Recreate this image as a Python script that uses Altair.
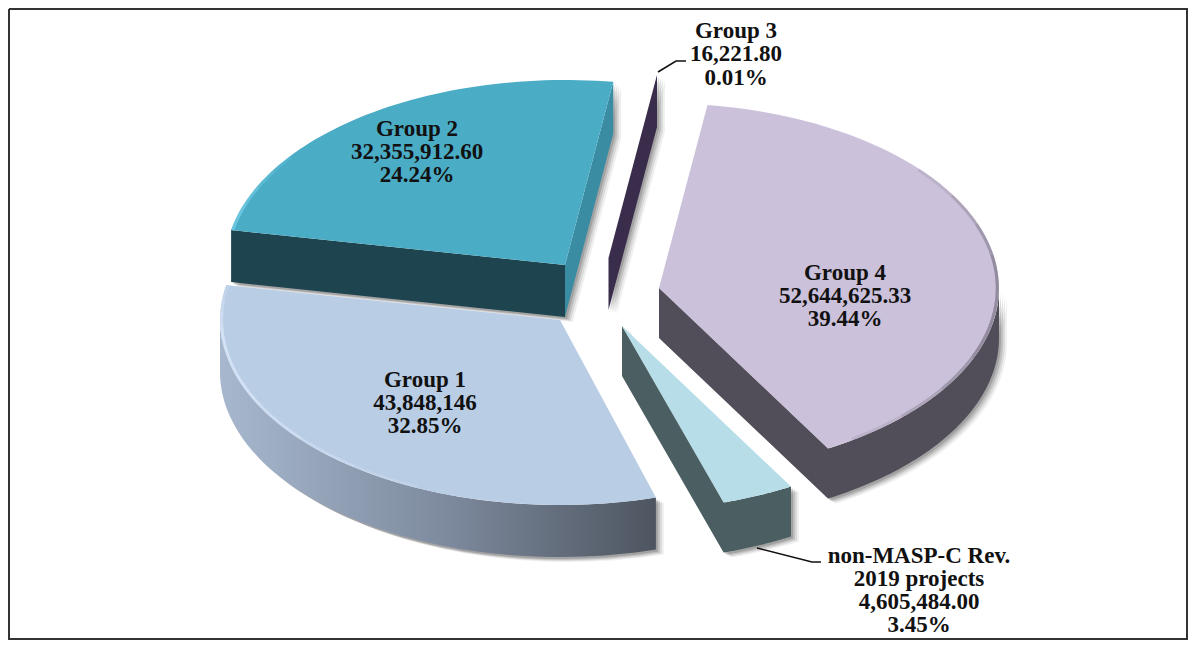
import math
import altair as alt

# ---- values ----
names = ["Group 1", "Group 2", "Group 3", "Group 4", "non-MASP-C Rev. 2019 projects"]
values = [43848146, 32355912.60, 16221.80, 52644625.33, 4605484.00]
value_labels = ["43,848,146", "32,355,912.60", "16,221.80", "52,644,625.33", "4,605,484.00"]
pct_labels = ["32.85%", "24.24%", "0.01%", "39.44%", "3.45%"]

# ---- layout ----
W, H = 1180, 632
RX, RY = 340, 185
START = 8.2            # degrees clockwise from the top where Group 4 starts
centers = {"Group 1": (560, 320), "Group 2": (565, 265), "Group 3": (608.5, 258),
           "Group 4": (659, 288), "non": (622, 326)}
depths = {"Group 1": 52, "Group 2": 52, "Group 3": 52, "Group 4": 50, "non": 50}

total = sum(values)
sweep = [v / total * 360 for v in values]
a4 = (START, START + sweep[3])
an = (a4[1], a4[1] + sweep[4])
a1 = (an[1] + 1, an[1] + sweep[0])
a2 = (a1[1], a1[1] + sweep[1])
a3 = (a2[1], a2[1] + sweep[2])


def page(x, y):
    return [x - 8, y - 8]


def rim(c, a, k=1.0):
    t = math.radians(a)
    return (c[0] + k * RX * math.sin(t), c[1] - k * RY * math.cos(t))


def arc(c, a, b, n=60, k=1.0):
    return [rim(c, a + (b - a) * i / n, k) for i in range(n + 1)]


def down(pts, d):
    return [(x, y + d) for x, y in pts]


def ring(pts):
    area = sum(pts[i][0] * pts[(i + 1) % len(pts)][1] - pts[(i + 1) % len(pts)][0] * pts[i][1]
               for i in range(len(pts)))
    p = list(pts) if area > 0 else list(pts)[::-1]
    r = [page(*q) for q in p]
    return r + [r[0]]


def poly(pts):
    return {"type": "Feature", "properties": {}, "geometry": {"type": "Polygon", "coordinates": [ring(pts)]}}


def multi(parts, dx=0, dy=0):
    return {"type": "Feature", "properties": {}, "geometry": {"type": "MultiPolygon", "coordinates": [
        [ring([(x + dx, y + dy) for x, y in p])] for p in parts]}}


def line(pts):
    return {"type": "Feature", "properties": {},
            "geometry": {"type": "LineString", "coordinates": [page(*q) for q in pts]}}


def band(top, d):
    return list(top) + down(top, d)[::-1]


PROJ = alt.Projection(type="identity", scale=1, translate=[0, 0])


def shape(feature, **mark):
    return alt.Chart(alt.InlineData(values=[feature])).mark_geoshape(**mark).project(**PROJ.to_dict())


def stroke_only(pts, **mark):
    return shape(line(pts), fill="white", fillOpacity=0, **mark)


def bevel(c, a, b, mid_span, color):
    """soft edge along a rim: several thin strokes whose lengths taper away"""
    out = []
    for i, op in enumerate([0.18, 0.18, 0.22, 0.25]):
        f = 1 - i * 0.22
        m = (a + b) / 2 if mid_span is None else mid_span
        out.append(stroke_only(arc(c, m - (m - a) * f, m + (b - m) * f, k=0.995),
                               stroke=color, strokeWidth=3, strokeOpacity=op))
    return out


# ---- parts ----
c1, c2, c3, c4, cn = (centers[k] for k in ["Group 1", "Group 2", "Group 3", "Group 4", "non"])
d1, d2, d3, d4, dn = (depths[k] for k in ["Group 1", "Group 2", "Group 3", "Group 4", "non"])

top1 = [c1] + arc(c1, *a1)
top2 = [c2] + arc(c2, *a2)
top4 = [c4] + arc(c4, *a4)
topn = [cn] + arc(cn, *an)

wall1 = band(arc(c1, a1[0], 270), d1)
wall2_front = band([c2, rim(c2, a2[0])], d2)
wall2_side = band([c2, rim(c2, a2[1])], d2)
wall3 = band([c3, rim(c3, a3[1])], d3)
wall4 = [band(arc(c4, 90, a4[1]), d4), band([c4, rim(c4, a4[1])], d4)]
walln = [band(arc(cn, *an), dn), band([cn, rim(cn, an[1])], dn)]

silhouettes = [[wall1], [wall2_front, wall2_side], [wall3], wall4, walln]

layers = []

# frame
fr = [(9, 9), (8 + W - 1, 9), (8 + W - 1, 8 + H - 1), (9, 8 + H - 1), (9, 9)]
layers.append(stroke_only(fr, stroke="#333333", strokeWidth=2))

# soft drop shadows
for parts in silhouettes:
    for dx, dy, op in [(8, 5, 0.06), (6, 4, 0.09), (4, 3, 0.12), (2, 2, 0.15)]:
        layers.append(shape(multi(parts, dx, dy), fill="#000000", fillOpacity=op, stroke=None))

# Group 1
layers.append(shape(poly(wall1), stroke=None, fill=alt.Gradient(
    gradient="linear", x1=0, x2=1, y1=0, y2=0,
    stops=[alt.GradientStop(offset=0, color="#A7B8CE"), alt.GradientStop(offset=0.5, color="#7F8CA0"),
           alt.GradientStop(offset=1, color="#4D5560")])))
layers.append(shape(poly(top1), fill="#B9CDE5", stroke=None))
layers += bevel(c1, 205, a1[1], 262, "#E2EEFF")

# Group 2
layers.append(shape(poly(wall2_side), fill="#3A8CA3", stroke=None))
layers.append(shape(poly(wall2_front), fill="#1E444F", stroke=None))
layers.append(shape(poly(top2), fill="#4BACC6", stroke=None))
layers += bevel(c2, a2[0], a2[0] + 25, a2[0], "#7FD8EE")

# Group 3
layers.append(shape(poly(wall3), fill="#3A2C4B", stroke=None))

# Group 4
layers.append(shape(multi(wall4), fill="#524E59", stroke=None))
layers.append(shape(poly(top4), fill="#CCC1DA", stroke=None))
layers += bevel(c4, 50, a4[1] - 5, 95, "#6E6878")

# non-MASP
layers.append(shape(multi(walln), fill="#4B5F63", stroke=None))
layers.append(shape(poly(topn), fill="#B7DEE8", stroke=None))

# leader lines
layers.append(stroke_only([(658, 72), (676, 61), (686, 61)], stroke="#111111", strokeWidth=1.6))
layers.append(stroke_only([(757, 548), (812, 562), (821, 562)], stroke="#111111", strokeWidth=1.6))

# labels
anchors = {"Group 1": (425, [380, 403, 426]), "Group 2": (417, [129, 152, 175]),
           "Group 3": (736, [31, 54, 78]), "Group 4": (845, [273, 296, 319]),
           "non": (919, [556, 579, 602, 625])}
rows = []
for i, n in enumerate(names):
    key = "non" if n.startswith("non") else n
    if key == "non":
        lines = ["non-MASP-C Rev.", "2019 projects", value_labels[i], pct_labels[i]]
    else:
        lines = [n, value_labels[i], pct_labels[i]]
    x, ys = anchors[key]
    for t, y in zip(lines, ys):
        px = page(x, y)
        rows.append({"t": t, "lon": px[0], "lat": px[1]})

text = alt.Chart(alt.InlineData(values=rows)).mark_text(
    font="Liberation Serif", fontWeight="bold", fontSize=23, color="#111111", align="center", baseline="middle"
).encode(longitude="lon:Q", latitude="lat:Q", text="t:N").project(**PROJ.to_dict())
layers.append(text)

chart = alt.layer(*layers).properties(
    width=W, height=H, padding=0, autosize=alt.AutoSizeParams(type="none"), background="white"
).configure_view(stroke=None)

chart.save("out.html", embed_options={"renderer": "svg", "actions": False})
